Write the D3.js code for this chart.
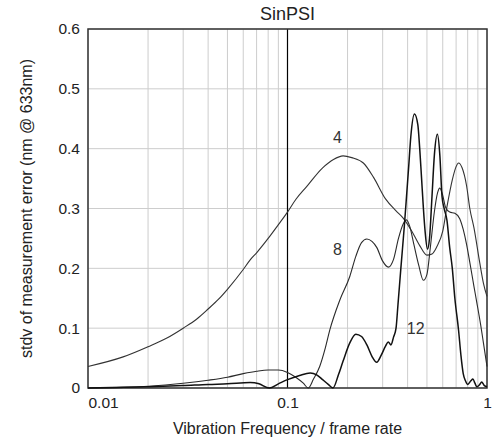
<!DOCTYPE html>
<meta charset="utf-8">
<title>SinPSI</title>
<script src="https://d3js.org/d3.v7.min.js"></script>
<style>
  body { margin: 0; background: #fff; }
  text { font-family: "Liberation Sans", Arial, sans-serif; fill: #222; }
  .tick text { font-size: 15.5px; }
  text.title { font-size: 18px; text-anchor: middle; }
  text.axislabel { font-size: 16px; text-anchor: middle; }
  text.curvelabel { font-size: 16px; text-anchor: middle; fill: #333; }
  .grid line { stroke: #cdcdcd; stroke-width: 1px; }
</style>
<div id="chart"></div>
<script>
// values
var freq4 = [0.01, 0.015, 0.02, 0.025, 0.03, 0.035, 0.04, 0.045, 0.05, 0.06, 0.065, 0.07, 0.08, 0.09, 0.1, 0.11, 0.125, 0.15, 0.17, 0.19, 0.21, 0.24, 0.27, 0.31, 0.35, 0.38, 0.42, 0.46, 0.5, 0.53, 0.56, 0.6, 0.63, 0.67, 0.7, 0.72, 0.75, 0.79, 0.82, 0.86, 0.92, 0.96, 1.0];
var err4 = [0.036, 0.052, 0.069, 0.084, 0.1, 0.115, 0.132, 0.148, 0.165, 0.198, 0.214, 0.226, 0.25, 0.273, 0.294, 0.315, 0.337, 0.368, 0.382, 0.388, 0.385, 0.376, 0.352, 0.316, 0.296, 0.284, 0.262, 0.238, 0.222, 0.224, 0.236, 0.262, 0.303, 0.348, 0.37, 0.376, 0.368, 0.338, 0.3, 0.268, 0.209, 0.175, 0.153];

var freq8 = [0.01, 0.015, 0.02, 0.03, 0.04, 0.05, 0.06, 0.07, 0.08, 0.09, 0.1, 0.11, 0.12, 0.127, 0.135, 0.145, 0.155, 0.163, 0.183, 0.205, 0.22, 0.235, 0.25, 0.265, 0.28, 0.3, 0.32, 0.34, 0.36, 0.38, 0.395, 0.41, 0.43, 0.455, 0.48, 0.5, 0.52, 0.545, 0.565, 0.58, 0.6, 0.62, 0.65, 0.69, 0.73, 0.76, 0.79, 0.82, 0.86, 0.89, 0.93, 0.96, 1.0];
var err8 = [0.0, 0.001, 0.003, 0.008, 0.013, 0.018, 0.024, 0.028, 0.03, 0.03, 0.026, 0.018, 0.008, 0.0, 0.015, 0.036, 0.068, 0.097, 0.147, 0.186, 0.22, 0.243, 0.249, 0.245, 0.235, 0.212, 0.202, 0.215, 0.25, 0.274, 0.281, 0.27, 0.24, 0.205, 0.18, 0.19, 0.235, 0.295, 0.326, 0.334, 0.322, 0.302, 0.294, 0.292, 0.283, 0.265, 0.24, 0.21, 0.17, 0.142, 0.105, 0.075, 0.036];

var freq12 = [0.01, 0.02, 0.03, 0.04, 0.05, 0.065, 0.072, 0.081, 0.09, 0.1, 0.115, 0.13, 0.14, 0.15, 0.16, 0.169, 0.18, 0.19, 0.205, 0.22, 0.235, 0.25, 0.265, 0.28, 0.295, 0.31, 0.32, 0.33, 0.34, 0.35, 0.358, 0.37, 0.385, 0.395, 0.405, 0.415, 0.433, 0.45, 0.46, 0.47, 0.48, 0.49, 0.503, 0.515, 0.53, 0.545, 0.564, 0.58, 0.595, 0.61, 0.63, 0.65, 0.67, 0.69, 0.72, 0.74, 0.76, 0.78, 0.8, 0.83, 0.85, 0.87, 0.89, 0.92, 0.94, 0.97, 1.0];
var err12 = [0.0, 0.002, 0.004, 0.006, 0.007, 0.009, 0.007, 0.0, 0.007, 0.014, 0.021, 0.025, 0.022, 0.014, 0.006, 0.0, 0.022, 0.045, 0.075, 0.09, 0.086, 0.072, 0.053, 0.043, 0.055, 0.07, 0.077, 0.072, 0.085, 0.1, 0.14, 0.2, 0.27, 0.32, 0.37, 0.42, 0.458, 0.44, 0.4, 0.35, 0.3, 0.26, 0.232, 0.25, 0.32, 0.39, 0.424, 0.39, 0.32, 0.3, 0.28, 0.235, 0.2, 0.15, 0.097, 0.055, 0.024, 0.012, 0.006, 0.012, 0.015, 0.008, 0.002, 0.006, 0.01, 0.004, 0.002];

var xTicks = [0.01, 0.1, 1];
var xMinor = [0.02, 0.03, 0.04, 0.05, 0.06, 0.07, 0.08, 0.09, 0.2, 0.3, 0.4, 0.5, 0.6, 0.7, 0.8, 0.9];
var yTicks = [0, 0.1, 0.2, 0.3, 0.4, 0.5, 0.6];

// curve name, where its label sits (freq, error)
var curveNames = ["4", "8", "12"];
var labelFreq = [0.178, 0.178, 0.439];
var labelErr = [0.418, 0.232, 0.1];

var margin = {top: 29, right: 8, bottom: 52, left: 88},
    width = 495 - margin.left - margin.right,
    height = 440 - margin.top - margin.bottom;

var svg = d3.select("#chart")
  .append("svg")
    .attr("width", width + margin.left + margin.right)
    .attr("height", height + margin.top + margin.bottom)
  .append("g")
    .attr("transform", "translate(" + margin.left + "," + margin.top + ")");

var x = d3.scaleLog().domain([0.01, 1]).range([0, width]);
var y = d3.scaleLinear().domain([0, 0.6]).range([height, 0]);

// grid
var grid = svg.append("g").attr("class", "grid");
grid.selectAll("line.v")
  .data(xMinor.concat(xTicks))
  .enter().append("line")
    .attr("x1", function(d) { return x(d); })
    .attr("x2", function(d) { return x(d); })
    .attr("y1", 0)
    .attr("y2", height);
grid.selectAll("line.h")
  .data(yTicks)
  .enter().append("line")
    .attr("x1", 0)
    .attr("x2", width)
    .attr("y1", function(d) { return y(d); })
    .attr("y2", function(d) { return y(d); });

// marker line at 0.1
svg.append("line")
  .attr("x1", x(0.1)).attr("x2", x(0.1))
  .attr("y1", 0).attr("y2", height)
  .attr("stroke", "#000")
  .attr("stroke-width", 1.2);

// axes
var xAxis = svg.append("g")
  .attr("transform", "translate(0," + height + ")")
  .call(d3.axisBottom(x).tickValues(xTicks).tickFormat(d3.format("")).tickSize(0).tickPadding(9));
xAxis.select(".domain").remove();
xAxis.selectAll(".tick text")
  .attr("text-anchor", function(d) { return d === 0.01 ? "start" : "middle"; });

var yAxis = svg.append("g")
  .call(d3.axisLeft(y).tickValues(yTicks).tickFormat(d3.format("")).tickSize(0).tickPadding(8));
yAxis.select(".domain").remove();

// frame
svg.append("rect")
  .attr("x", 0).attr("y", 0)
  .attr("width", width).attr("height", height)
  .attr("fill", "none")
  .attr("stroke", "#333")
  .attr("stroke-width", 1.5);

// curves
var line = d3.line()
  .x(function(d) { return x(d[0]); })
  .y(function(d) { return y(d[1]); })
  .curve(d3.curveMonotoneX);

var series = [
  {f: freq4, v: err4, w: 1.1, c: "#333"},
  {f: freq8, v: err8, w: 1.1, c: "#2a2a2a"},
  {f: freq12, v: err12, w: 1.5, c: "#111"}
];

series.forEach(function(s) {
  svg.append("path")
    .datum(d3.zip(s.f, s.v))
    .attr("fill", "none")
    .attr("stroke", s.c)
    .attr("stroke-width", s.w)
    .attr("stroke-linejoin", "round")
    .attr("d", line);
});

svg.selectAll("text.curvelabel")
  .data(curveNames)
  .enter().append("text")
    .attr("class", "curvelabel")
    .attr("x", function(d, i) { return x(labelFreq[i]); })
    .attr("y", function(d, i) { return y(labelErr[i]); })
    .attr("dy", "0.35em")
    .text(function(d) { return d; });

// titles
svg.append("text")
  .attr("class", "title")
  .attr("x", width / 2)
  .attr("y", 20 - margin.top)
  .text("SinPSI");

svg.append("text")
  .attr("class", "axislabel")
  .attr("x", width / 2)
  .attr("y", height + 46)
  .text("Vibration Frequency / frame rate");

svg.append("text")
  .attr("class", "axislabel")
  .attr("transform", "rotate(-90)")
  .attr("x", -height / 2)
  .attr("y", -56)
  .text("stdv of measurement error (nm @ 633nm)");
</script>
